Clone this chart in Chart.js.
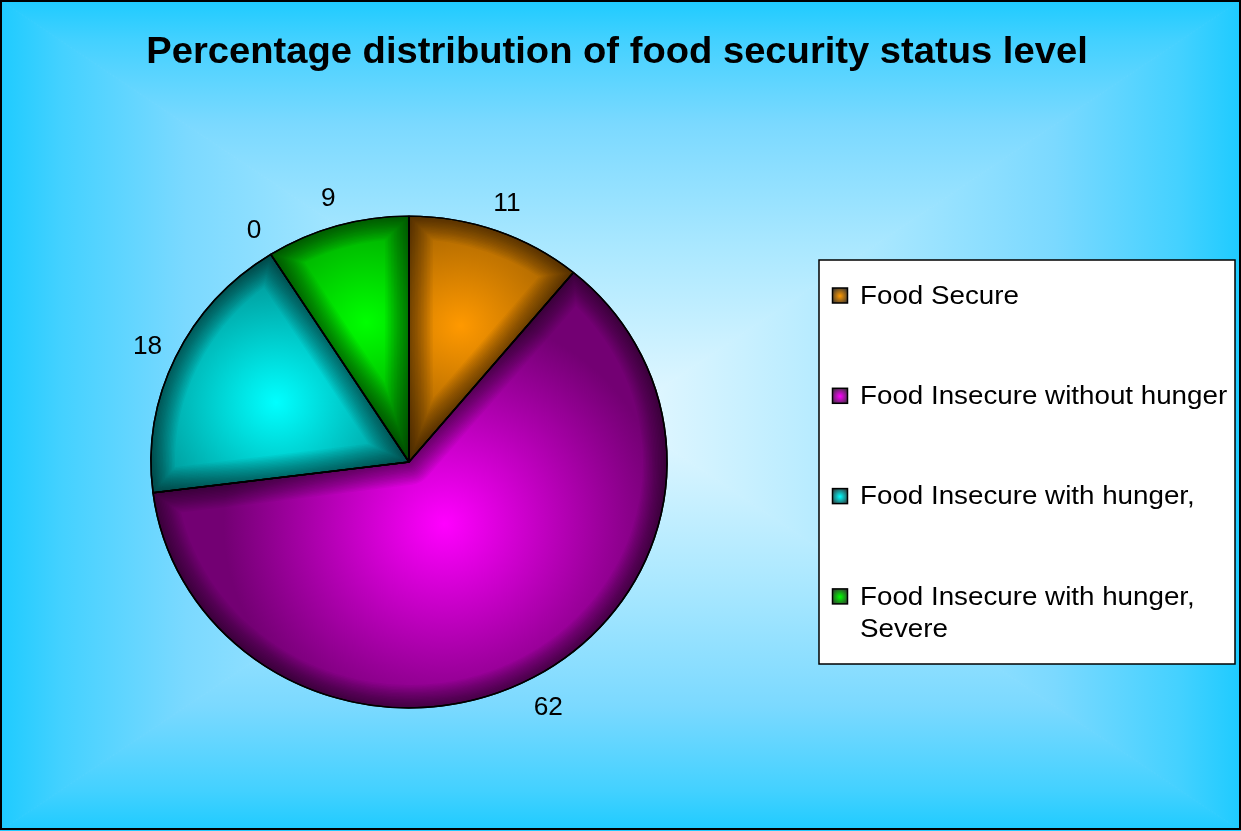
<html><head></head>
<body style="margin:0">
<script src="https://cdn.jsdelivr.net/npm/chart.js@4/dist/chart.umd.min.js"></script>
<canvas id="pie" width="1241" height="831"></canvas>
<script>
titleText = 'Percentage distribution of food security status level';
categories = ['Food Secure', 'Food Insecure without hunger', 'Food Insecure with hunger,', '', ['Food Insecure with hunger,', 'Severe']];
percents = [11, 62, 18, 0, 9];
brightColors = ['#ff9900', '#ff00ff', '#00ffff', '#ffff00', '#00ff00'];
darkColors = ['#734500', '#730073', '#007373', '#737300', '#007300'];

R = 258;          // horizontal radius of the pie
squashY = 0.953;  // the pie is drawn slightly flattened
font = '"Liberation Sans", Arial, sans-serif';

function sliceGeom(chart, i) {
  const ca = chart.chartArea;
  const cx = (ca.left + ca.right) / 2, cy = (ca.top + ca.bottom) / 2;
  const total = percents.reduce((a, b) => a + b, 0);
  let before = 0;
  for (let k = 0; k < i; k++) before += percents[k];
  const theta = percents[i] / total * 2 * Math.PI;
  const mid = -Math.PI / 2 + before / total * 2 * Math.PI + theta / 2;
  const half = Math.max(theta / 2, 0.01);
  const d = 2 * R * Math.sin(half) / (3 * half) * 0.9;
  return { gx: cx + Math.cos(mid) * d, gy: cy + Math.sin(mid) * d, d: d };
}

function sliceFill(c) {
  const chart = c.chart, i = c.dataIndex;
  if (!chart.chartArea) return brightColors[i];
  const s = sliceGeom(chart, i);
  const g = chart.ctx.createRadialGradient(s.gx, s.gy, 0, s.gx, s.gy, R - s.d * 0.5);
  g.addColorStop(0, brightColors[i]);
  g.addColorStop(1, darkColors[i]);
  return g;
}

// light centre fading to deep sky blue at every edge
backdrop = {
  id: 'backdrop',
  beforeDraw(chart) {
    const ctx = chart.ctx, W = chart.width, H = chart.height, cx = W / 2, cy = H / 2;
    const parts = [
      [[0, 0], [W, 0], cx, 0],
      [[0, H], [W, H], cx, H],
      [[0, 0], [0, H], 0, cy],
      [[W, 0], [W, H], W, cy]
    ];
    ctx.save();
    parts.forEach(p => {
      const g = ctx.createLinearGradient(p[2], p[3], cx, cy);
      g.addColorStop(0, '#1ecbff');
      g.addColorStop(0.1, '#44d1ff');
      g.addColorStop(0.3, '#7bd9ff');
      g.addColorStop(0.6, '#abe8ff');
      g.addColorStop(1, '#e6f8ff');
      ctx.fillStyle = g;
      ctx.beginPath();
      ctx.moveTo(p[0][0], p[0][1]);
      ctx.lineTo(p[1][0], p[1][1]);
      ctx.lineTo(cx, cy);
      ctx.closePath();
      ctx.fill();
      ctx.strokeStyle = g;
      ctx.lineWidth = 1;
      ctx.stroke();
    });
    // title
    ctx.fillStyle = '#000';
    ctx.font = 'bold 36px ' + font;
    ctx.textAlign = 'center';
    ctx.textBaseline = 'alphabetic';
    ctx.translate(617, 63);
    ctx.scale(1.06, 1);
    ctx.fillText(titleText, 0, 0);
    ctx.restore();
  }
};

squash = {
  id: 'squash',
  beforeDatasetsDraw(chart) {
    const ca = chart.chartArea, ctx = chart.ctx;
    const cx = (ca.left + ca.right) / 2, cy = (ca.top + ca.bottom) / 2;
    ctx.save();
    ctx.translate(cx, cy);
    ctx.scale(1, squashY);
    ctx.translate(-cx, -cy);
  },
  afterDatasetDraw(chart, args) {
    // soft shadow along each slice outline
    const ctx = chart.ctx;
    args.meta.data.forEach((arc, i) => {
      if (!percents[i]) return;
      const p = arc.getProps(['x', 'y', 'startAngle', 'endAngle', 'outerRadius'], true);
      const path = () => {
        ctx.beginPath();
        ctx.moveTo(p.x, p.y);
        ctx.arc(p.x, p.y, p.outerRadius, p.startAngle, p.endAngle);
        ctx.closePath();
      };
      ctx.save();
      path();
      ctx.clip();
      ctx.strokeStyle = 'rgba(0,0,0,0.035)';
      ctx.lineJoin = 'round';
      const n = 16, band = 24;
      for (let k = 1; k <= n; k++) {
        ctx.lineWidth = 2 * band * k / n;
        ctx.stroke();
      }
      ctx.restore();
      ctx.save();
      path();
      ctx.strokeStyle = '#000';
      ctx.lineWidth = 1.5;
      ctx.lineJoin = 'bevel';
      ctx.stroke();
      ctx.restore();
    });
  },
  afterDatasetsDraw(chart) {
    const ctx = chart.ctx;
    ctx.restore();
    // value labels just outside the rim
    ctx.save();
    ctx.fillStyle = '#000';
    ctx.font = '25px ' + font;
    ctx.textAlign = 'center';
    ctx.textBaseline = 'middle';
    chart.getDatasetMeta(0).data.forEach((arc, i) => {
      const p = arc.getProps(['x', 'y', 'startAngle', 'endAngle', 'outerRadius'], true);
      const mid = (p.startAngle + p.endAngle) / 2;
      const lx = p.x + Math.cos(mid) * (p.outerRadius + 31);
      const ly = p.y + Math.sin(mid) * (p.outerRadius * squashY + 31) + 3;
      ctx.save();
      ctx.translate(lx, ly);
      ctx.scale(1.05, 1);
      ctx.fillText(String(percents[i]), 0, 0);
      ctx.restore();
    });
    ctx.restore();
  }
};

boxLegend = {
  id: 'boxLegend',
  afterDraw(chart) {
    const ctx = chart.ctx;
    ctx.save();
    ctx.fillStyle = '#fff';
    ctx.fillRect(819, 260, 416, 404);
    ctx.strokeStyle = '#000';
    ctx.lineWidth = 1.5;
    ctx.strokeRect(819, 260, 416, 404);
    ctx.font = '25px ' + font;
    ctx.textAlign = 'left';
    ctx.textBaseline = 'middle';
    let row = 0;
    categories.forEach((label, i) => {
      if (label === '') return;
      const y = 296 + row * 100.3;
      const g = ctx.createRadialGradient(840, y, 0, 840, y, 10);
      g.addColorStop(0, brightColors[i]);
      g.addColorStop(1, '#333');
      ctx.fillStyle = g;
      ctx.fillRect(832.5, y - 8, 15, 15);
      ctx.strokeStyle = '#000';
      ctx.lineWidth = 1.5;
      ctx.strokeRect(832.5, y - 8, 15, 15);
      ctx.fillStyle = '#000';
      [].concat(label).forEach((line, j) => {
        ctx.save();
        ctx.translate(860, y + 1 + j * 32.5);
        ctx.scale(1.11, 1);
        ctx.fillText(line, 0, 0);
        ctx.restore();
      });
      row++;
    });
    // outer frame
    ctx.lineWidth = 2;
    ctx.strokeRect(1, 1, chart.width - 2, chart.height - 3);
    ctx.restore();
  }
};

new Chart(document.getElementById('pie'), {
  type: 'pie',
  data: {
    labels: categories,
    datasets: [{
      data: percents,
      radius: R,
      backgroundColor: sliceFill,
      borderColor: '#000',
      borderWidth: 1.5
    }]
  },
  options: {
    responsive: false,
    animation: false,
    events: [],
    layout: { padding: { left: 140, right: 563, top: 200, bottom: 107 } },
    plugins: {
      legend: { display: false },
      title: { display: false },
      tooltip: { enabled: false }
    }
  },
  plugins: [backdrop, squash, boxLegend]
});
</script>
</body>
</html>
